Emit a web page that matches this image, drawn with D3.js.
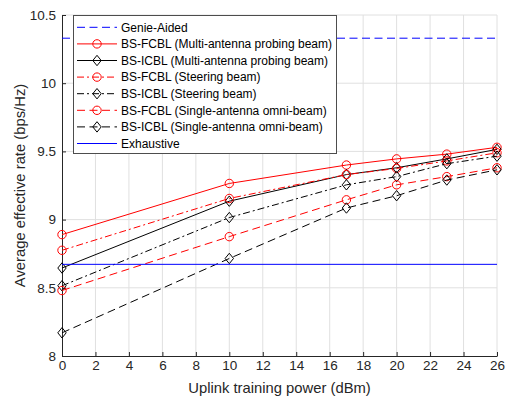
<!DOCTYPE html>
<html>
<head>
<meta charset="utf-8">
<script src="https://cdn.jsdelivr.net/npm/d3@7"></script>
<style>
  html, body { margin: 0; padding: 0; background: #fff; }
  svg { display: block; font-family: "Liberation Sans", Arial, Helvetica, sans-serif; }
</style>
</head>
<body>
<svg id="chart" width="506" height="398"></svg>
<script>
// Uplink training power (dBm)
const powers = [0, 10, 17, 20, 23, 26];

// Average effective rate (bps/Hz) for each scheme
const fcblMultiProbe = [8.89, 9.265, 9.40, 9.445, 9.48, 9.53];
const icblMultiProbe = [8.645, 9.135, 9.33, 9.38, 9.445, 9.515];
const fcblSteering   = [8.775, 9.155, 9.33, 9.375, 9.43, 9.49];
const icblSteering   = [8.515, 9.015, 9.255, 9.315, 9.41, 9.465];
const fcblOmni       = [8.48, 8.875, 9.145, 9.255, 9.315, 9.38];
const icblOmni       = [8.17, 8.715, 9.085, 9.175, 9.29, 9.365];

// Reference bounds (flat over the whole power range)
const genieRange = [0, 26];
const genieRate = [10.33, 10.33];
const exhaustiveRange = [0, 26];
const exhaustiveRate = [8.672, 8.672];

const xTicks = d3.range(0, 27, 2);
const yTicks = [8, 8.5, 9, 9.5, 10, 10.5];

const xLabel = "Uplink training power (dBm)";
const yLabel = "Average effective rate (bps/Hz)";

const series = [
  { name: "Genie-Aided", xs: genieRange, ys: genieRate, color: "#0000ff", dash: "8,4.5", marker: null },
  { name: "BS-FCBL (Multi-antenna probing beam)", xs: powers, ys: fcblMultiProbe, color: "#ff0000", dash: null, marker: "circle" },
  { name: "BS-ICBL (Multi-antenna probing beam)", xs: powers, ys: icblMultiProbe, color: "#000000", dash: null, marker: "diamond" },
  { name: "BS-FCBL (Steering beam)", xs: powers, ys: fcblSteering, color: "#ff0000", dash: "7,3,2,3", marker: "circle" },
  { name: "BS-ICBL (Steering beam)", xs: powers, ys: icblSteering, color: "#000000", dash: "7,3,2,3", marker: "diamond" },
  { name: "BS-FCBL (Single-antenna omni-beam)", xs: powers, ys: fcblOmni, color: "#ff0000", dash: "8,4.5", marker: "circle" },
  { name: "BS-ICBL (Single-antenna omni-beam)", xs: powers, ys: icblOmni, color: "#000000", dash: "8,4.5", marker: "diamond" },
  { name: "Exhaustive", xs: exhaustiveRange, ys: exhaustiveRate, color: "#0000ff", dash: null, marker: null }
];

const svg = d3.select("#chart");
const plotL = 62, plotR = 497, plotT = 15, plotB = 356;

const x = d3.scaleLinear().domain([0, 26]).range([plotL, plotR]);
const y = d3.scaleLinear().domain([8, 10.5]).range([plotB, plotT]);

const axisColor = "#262626";

// grid
const grid = svg.append("g");
grid.selectAll("line.vx").data(xTicks.slice(1)).join("line")
  .attr("x1", d => x(d)).attr("x2", d => x(d))
  .attr("y1", plotT).attr("y2", plotB)
  .attr("stroke", "#e0e0e0").attr("stroke-width", 1);
grid.selectAll("line.hy").data(yTicks.slice(1)).join("line")
  .attr("x1", plotL).attr("x2", plotR)
  .attr("y1", d => y(d)).attr("y2", d => y(d))
  .attr("stroke", "#e0e0e0").attr("stroke-width", 1);

// axes (ticks pointing inward)
const xAxis = d3.axisBottom(x).tickValues(xTicks).tickSizeInner(-4).tickSizeOuter(0).tickPadding(9);
const yAxis = d3.axisLeft(y).tickValues(yTicks).tickSizeInner(-4).tickSizeOuter(0).tickPadding(6)
  .tickFormat(d3.format("~g"));

const gx = svg.append("g").attr("transform", `translate(0,${plotB})`).call(xAxis);
const gy = svg.append("g").attr("transform", `translate(${plotL},0)`).call(yAxis);
[gx, gy].forEach(g => {
  g.select(".domain").attr("stroke", axisColor).attr("stroke-width", 1);
  g.selectAll(".tick line").attr("stroke", axisColor);
  g.selectAll(".tick text").attr("fill", axisColor).attr("font-size", 13.5)
    .attr("font-family", "'Liberation Sans', Arial, Helvetica, sans-serif");
});
gx.selectAll(".tick text").attr("dy", "0.71em").attr("y", 4);

// axis titles
svg.append("text").attr("x", (plotL + plotR) / 2).attr("y", 393)
  .attr("text-anchor", "middle").attr("font-size", 14.8).attr("fill", axisColor)
  .text(xLabel);
svg.append("text").attr("transform", `translate(25,${(plotT + plotB) / 2}) rotate(-90)`)
  .attr("text-anchor", "middle").attr("font-size", 14.8).attr("fill", axisColor)
  .text(yLabel);

// lines and markers
const plot = svg.append("g");
const line = d3.line();

function drawMarker(g, type, cx, cy, color) {
  if (type === "circle") {
    g.append("circle").attr("cx", cx).attr("cy", cy).attr("r", 4.2)
      .attr("fill", "none").attr("stroke", color).attr("stroke-width", 1);
  } else if (type === "diamond") {
    g.append("path")
      .attr("d", `M${cx},${cy - 5.2}L${cx + 4.2},${cy}L${cx},${cy + 5.2}L${cx - 4.2},${cy}Z`)
      .attr("fill", "none").attr("stroke", color).attr("stroke-width", 1);
  }
}

series.forEach(s => {
  const pts = s.xs.map((v, i) => [x(v), y(s.ys[i])]);
  plot.append("path").attr("d", line(pts))
    .attr("fill", "none").attr("stroke", s.color).attr("stroke-width", 1)
    .attr("stroke-dasharray", s.dash);
  if (s.marker) pts.forEach(p => drawMarker(plot, s.marker, p[0], p[1], s.color));
});

// legend
const lg = svg.append("g");
const lgX = 73.5, lgY = 15.5, lgW = 263, lgH = 138;
lg.append("rect").attr("x", lgX).attr("y", lgY).attr("width", lgW).attr("height", lgH)
  .attr("fill", "#fff").attr("stroke", "#4d4d4d").attr("stroke-width", 1);
series.forEach((s, i) => {
  const cy = 27.3 + i * 16.6;
  lg.append("line").attr("x1", 77).attr("x2", 117).attr("y1", cy).attr("y2", cy)
    .attr("stroke", s.color).attr("stroke-width", 1).attr("stroke-dasharray", s.dash);
  if (s.marker) drawMarker(lg, s.marker, 97, cy, s.color);
  lg.append("text").attr("x", 121).attr("y", cy).attr("dy", "0.35em")
    .attr("font-size", 12).attr("fill", "#000").text(s.name);
});
</script>
</body>
</html>
